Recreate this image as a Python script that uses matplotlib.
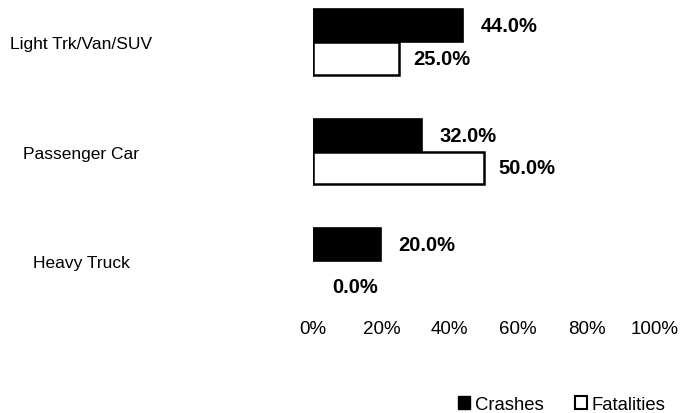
import numpy as np
import matplotlib.pyplot as plt
from matplotlib.patches import Patch

plt.rcParams['font.family'] = ['Liberation Sans', 'DejaVu Sans']

categories = ["Light Trk/Van/SUV", "Passenger Car", "Heavy Truck"]
crashes = [44.0, 32.0, 20.0]
fatalities = [25.0, 50.0, 0.0]
xticks = [0, 20, 40, 60, 80, 100]

fig = plt.figure(figsize=(6.82, 4.14), dpi=100)
ax = fig.add_axes([313 / 682, 1 - 300 / 414, 342 / 682, 300 / 414])

y = np.arange(len(categories))
h = 0.3
ax.barh(y - h / 2, crashes, height=h, color='black', edgecolor='black', linewidth=1.2)
lw = [1.8 if v > 0 else 0 for v in fatalities]
ax.barh(y + h / 2, fatalities, height=h, color='white', edgecolor='black', linewidth=lw)

for yi, v in zip(y, crashes):
    ax.text(v + 5, yi - h / 2, f"{v:.1f}%", va='center', ha='left',
            fontsize=14.5, fontweight='bold')
for yi, v in zip(y, fatalities):
    ax.text(v + (5.5 if v == 0 else 4.2), yi + h / 2 + (0.08 if v == 0 else 0), f"{v:.1f}%",
            va='center', ha='left', fontsize=14.5, fontweight='bold')

ax.set_xlim(0, 100)
ax.set_ylim(2.347, -0.393)
ax.set_xticks(xticks)
ax.set_xticklabels([f"{t}%" for t in xticks], fontsize=13.5)
ax.tick_params(axis='x', length=0, pad=15)
ax.set_yticks(y)
ax.set_yticklabels(categories, fontsize=12.5)
for lab in ax.get_yticklabels():
    lab.set_horizontalalignment('center')
ax.tick_params(axis='y', length=0, pad=167)
for s in ax.spines.values():
    s.set_visible(False)

handles = [Patch(facecolor='black', edgecolor='black', label='Crashes'),
           Patch(facecolor='white', edgecolor='black', linewidth=1.5, label='Fatalities')]
fig.legend(handles=handles, loc='lower right', bbox_to_anchor=(1.0, -0.04),
           ncol=2, frameon=False, fontsize=13.3, handlelength=0.65, handleheight=0.7,
           handletextpad=0.25, columnspacing=1.7)

fig.savefig("out.png", dpi=100)
